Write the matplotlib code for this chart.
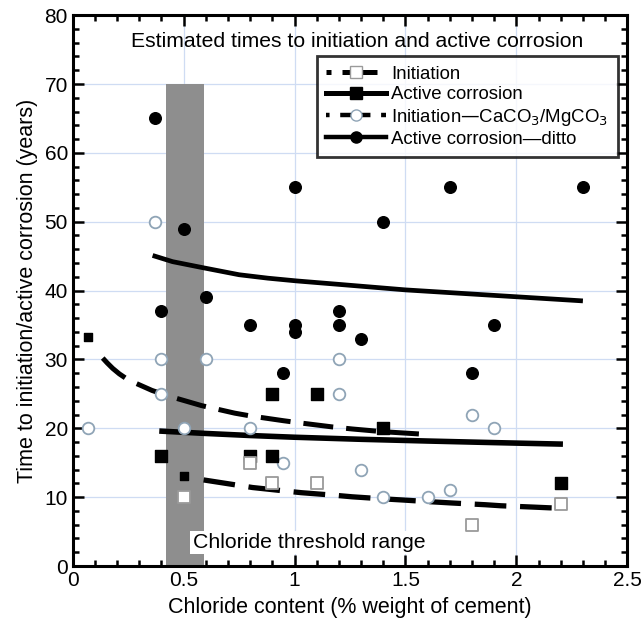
import matplotlib
matplotlib.use("Agg")
import matplotlib.pyplot as plt
from matplotlib.lines import Line2D
from matplotlib.ticker import MultipleLocator

plt.rcParams['font.family'] = ['Liberation Sans', 'DejaVu Sans']

# scatter data
init_x = [0.5, 0.8, 0.9, 1.1, 1.8, 2.2]
init_y = [10, 15, 12, 12, 6, 9]
active_x = [0.4, 0.8, 0.9, 0.9, 1.1, 1.4, 2.2]
active_y = [16, 16, 16, 25, 25, 20, 12]
caco3_x = [0.07, 0.37, 0.4, 0.6, 0.4, 0.5, 0.8, 0.95, 1.2, 1.2, 1.3, 1.4, 1.6, 1.7, 1.8, 1.9]
caco3_y = [20, 50, 30, 30, 25, 20, 20, 15, 30, 25, 14, 10, 10, 11, 22, 20]
ditto_x = [0.37, 0.5, 0.6, 0.4, 0.8, 1.0, 1.0, 0.95, 1.0, 1.2, 1.2, 1.3, 1.4, 1.7, 1.8, 1.9, 2.3]
ditto_y = [65, 49, 39, 37, 35, 35, 34, 28, 55, 37, 35, 33, 50, 55, 28, 35, 55]

# fitted curves, points
init_fit_x = [0.59, 0.72, 0.81, 0.97, 1.03, 1.19, 1.26, 1.40, 1.48, 1.63, 1.71, 1.86, 1.93, 2.08, 2.15, 2.21]
init_fit_y = [12.5, 11.85, 11.4, 10.85, 10.65, 10.25, 10.05, 9.75, 9.6, 9.3, 9.15, 8.9, 8.75, 8.55, 8.45, 8.4]
active_fit_x = [0.39, 0.6, 0.8, 1.0, 1.3, 1.6, 1.9, 2.21]
active_fit_y = [19.6, 19.25, 18.95, 18.7, 18.4, 18.15, 17.92, 17.7]
caco3_fit_x = [0.135, 0.155, 0.18, 0.21, 0.24, 0.28, 0.357, 0.43, 0.505, 0.58, 0.73, 0.8, 0.95, 1.02, 1.17, 1.26, 1.4, 1.6]
caco3_fit_y = [30.2, 29.5, 28.7, 27.9, 27.25, 26.6, 25.5, 24.7, 24.0, 23.3, 22.2, 21.8, 21.1, 20.8, 20.2, 19.9, 19.5, 19.1]
ditto_fit_x = [0.36, 0.45, 0.59, 0.75, 0.88, 1.01, 1.2, 1.5, 1.75, 2.0, 2.3]
ditto_fit_y = [45.1, 44.2, 43.3, 42.3, 41.8, 41.4, 40.9, 40.1, 39.6, 39.1, 38.5]

# small dash pieces at start of dashed curves
start_x = [0.07, 0.5]
start_y = [33.2, 13]

band = (0.42, 0.59)

fig = plt.figure(figsize=(6.44, 6.31), dpi=100)
ax = fig.add_axes([0.113, 0.103, 0.861, 0.873])

ax.set_xlim(0, 2.5)
ax.set_ylim(0, 80)
ax.grid(True, color='#cfdcf3', lw=0.9)
ax.set_axisbelow(True)

ax.fill_between(band, 0, 70, color='#8e8e8e', lw=0, zorder=1)

blue_gray = '#8fa4b6'
ax.scatter(ditto_x, ditto_y, s=70, color='black', zorder=4)
ax.scatter(caco3_x, caco3_y, s=70, facecolor='white', edgecolor=blue_gray, lw=1.3, zorder=4)
ax.scatter(active_x, active_y, s=80, marker='s', color='black', zorder=4)
ax.scatter(init_x, init_y, s=75, marker='s', facecolor='white', edgecolor='#9a9a9a', lw=1.3, zorder=4)

dash = (0, (6, 2.6))
ax.plot(ditto_fit_x, ditto_fit_y, color='black', lw=3.4, zorder=3, solid_capstyle='butt')
ax.plot(active_fit_x, active_fit_y, color='black', lw=4.0, zorder=3, solid_capstyle='butt')
ax.plot(caco3_fit_x, caco3_fit_y, color='black', lw=3.6, ls=dash, zorder=3)
ax.plot(init_fit_x, init_fit_y, color='black', lw=3.8, ls=dash, zorder=3)
ax.scatter(start_x, start_y, s=30, marker='s', color='black', zorder=3)

ax.text(1.28, 76.2, 'Estimated times to initiation and active corrosion',
        ha='center', va='center', fontsize=15.2)
ax.text(0.54, 3.4, 'Chloride threshold range', ha='left', va='center', fontsize=15.3,
        bbox=dict(facecolor='white', edgecolor='none', pad=1.5), zorder=5)

handles = [
    Line2D([], [], color='black', lw=3.6, ls=(0, (1, 2.2, 6, 0)), marker='s', ms=8,
           mfc='white', mec='#9a9a9a'),
    Line2D([], [], color='black', lw=3.6, marker='s', ms=8),
    Line2D([], [], color='black', lw=3.2, ls=(0, (0.8, 2.4, 6, 0)), marker='o', ms=8,
           mfc='white', mec=blue_gray),
    Line2D([], [], color='black', lw=3.2, marker='o', ms=8),
]
labels = ['Initiation', 'Active corrosion',
          'Initiation\u2014CaCO$_3$/MgCO$_3$', 'Active corrosion\u2014ditto']
leg = ax.legend(handles, labels, loc='upper right', bbox_to_anchor=(0.983, 0.925),
                fontsize=13.4, frameon=True, fancybox=False, handlelength=3.2,
                handletextpad=0.3, borderpad=0.5, labelspacing=0.18, numpoints=1,
                borderaxespad=0)
leg.get_frame().set_edgecolor('black')
leg.get_frame().set_linewidth(2.0)
leg.set_zorder(6)

ax.xaxis.set_major_locator(MultipleLocator(0.5))
ax.xaxis.set_minor_locator(MultipleLocator(0.1))
ax.yaxis.set_major_locator(MultipleLocator(10))
ax.yaxis.set_minor_locator(MultipleLocator(2))
ax.xaxis.set_major_formatter(plt.FuncFormatter(lambda v, p: f'{v:g}'))
ax.tick_params(which='both', direction='in', top=True, right=True, width=1.8, labelsize=15)
ax.tick_params(which='major', length=8)
ax.tick_params(which='minor', length=4)
for s in ax.spines.values():
    s.set_linewidth(2.2)

ax.set_xlabel('Chloride content (% weight of cement)', fontsize=15.5, labelpad=5)
ax.set_ylabel('Time to initiation/active corrosion (years)', fontsize=15.5, labelpad=5)

fig.savefig('out.png', dpi=100)
